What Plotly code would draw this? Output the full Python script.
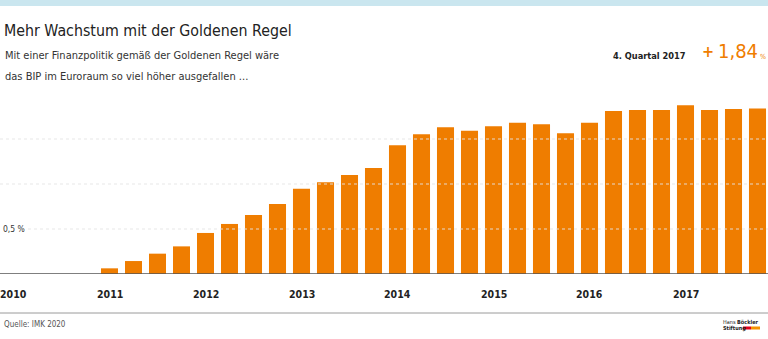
import plotly.graph_objects as go

# ---- data ----
quarters = [f"{y}Q{q}" for y in range(2010, 2018) for q in range(1, 5)]
values = [
    0, 0, 0, 0,                      # 2010
    0.063, 0.144, 0.226, 0.307,      # 2011
    0.456, 0.556, 0.656, 0.778,      # 2012
    0.948, 1.019, 1.100, 1.178,      # 2013
    1.430, 1.552, 1.630, 1.593,      # 2014
    1.641, 1.681, 1.663, 1.563,      # 2015
    1.681, 1.811, 1.822, 1.822,      # 2016
    1.874, 1.822, 1.833, 1.840,      # 2017
]
year_labels = ["2010", "2011", "2012", "2013", "2014", "2015", "2016", "2017"]
grid_values = [0.5, 1.0, 1.5]

W, H = 768, 339
T, B = 94, 65
PH = H - T - B  # plot height in px
FONT = "DejaVu Sans Condensed, Liberation Sans Narrow, sans-serif"
ORANGE = "#ef7d00"


def py(p):  # pixel y -> paper y
    return (H - B - p) / PH


def px(p):  # pixel x -> paper x
    return p / W


xs = list(range(len(quarters)))

fig = go.Figure()
fig.add_trace(go.Bar(x=xs, y=values, marker=dict(color=ORANGE, line=dict(width=0)),
                     hoverinfo="skip", text=quarters, textposition="none"))

shapes = []
# top band
shapes.append(dict(type="rect", xref="paper", yref="paper", x0=0, x1=1, y0=py(6), y1=py(0),
                   fillcolor="#cae6ef", line=dict(width=0), layer="above"))
# grid lines (drawn above bars, light)
for g in grid_values:
    x0 = px(28) if g == 0.5 else 0
    shapes.append(dict(type="line", xref="paper", yref="y", x0=x0, x1=1, y0=g, y1=g,
                       line=dict(color="rgba(228,228,228,0.9)", width=1, dash="dot"), layer="above"))
# baseline
shapes.append(dict(type="line", xref="paper", yref="y", x0=0, x1=1, y0=0, y1=0,
                   line=dict(color="#555555", width=1.5), layer="above"))
# footer rule
shapes.append(dict(type="line", xref="paper", yref="paper", x0=0, x1=1, y0=py(313), y1=py(313),
                   line=dict(color="#9a9a9a", width=1)))
# logo bars
shapes.append(dict(type="rect", xref="paper", yref="paper", x0=px(743), x1=px(751), y0=py(329.5), y1=py(326.5),
                   fillcolor="#e2001a", line=dict(width=0)))
shapes.append(dict(type="rect", xref="paper", yref="paper", x0=px(751), x1=px(760), y0=py(329.5), y1=py(326.5),
                   fillcolor="#f39200", line=dict(width=0)))

ann = []
ann.append(dict(text="Mehr Wachstum mit der Goldenen Regel", x=px(2), y=py(30.5), xanchor="left", yanchor="middle",
                font=dict(family=FONT, size=15.8, color="#222222")))
ann.append(dict(text="Mit einer Finanzpolitik gemäß der Goldenen Regel wäre", x=px(3), y=py(55.5),
                xanchor="left", yanchor="middle", font=dict(family=FONT, size=11, color="#333333")))
ann.append(dict(text="das BIP im Euroraum so viel höher ausgefallen ...", x=px(3), y=py(76.5),
                xanchor="left", yanchor="middle", font=dict(family=FONT, size=11, color="#333333")))
ann.append(dict(text="<b>4. Quartal 2017</b>", x=px(688), y=py(55.5), xanchor="right", yanchor="middle",
                font=dict(family=FONT, size=9.2, color="#222222")))
ann.append(dict(text="<b>+</b>", x=px(700), y=py(51.5), xanchor="left", yanchor="middle",
                font=dict(family=FONT, size=16, color=ORANGE)))
ann.append(dict(text="1,84", x=px(716), y=py(51.5), xanchor="left", yanchor="middle",
                font=dict(family=FONT, size=20, color=ORANGE)))
ann.append(dict(text="%", x=px(758), y=py(56.5), xanchor="left", yanchor="middle",
                font=dict(family=FONT, size=7, color=ORANGE)))
ann.append(dict(text="0,5 %", x=px(1), y=0.5, xref="paper", yref="y", xanchor="left", yanchor="middle",
                font=dict(family=FONT, size=8.5, color="#333333")))
for k, lab in enumerate(year_labels):
    ann.append(dict(text=f"<b>{lab}</b>", x=4 * k, xref="x", y=0, yref="paper", yshift=-20,
                    xanchor="center", yanchor="middle", font=dict(family=FONT, size=10.5, color="#222222")))
ann.append(dict(text="Quelle: IMK 2020", x=px(2), y=py(324), xanchor="left", yanchor="middle",
                font=dict(family=FONT, size=8, color="#555555")))
ann.append(dict(text="Hans <b>Böckler</b>", x=px(721), y=py(322), xanchor="left", yanchor="middle",
                font=dict(family=FONT, size=5.5, color="#222222")))
ann.append(dict(text="<b>Stiftung</b>", x=px(721), y=py(328), xanchor="left", yanchor="middle",
                font=dict(family=FONT, size=5.5, color="#222222")))
for a in ann:
    a.setdefault("xref", "paper")
    a.setdefault("yref", "paper")
    a["showarrow"] = False

fig.update_layout(
    width=W, height=H,
    margin=dict(l=0, r=0, t=T, b=B),
    paper_bgcolor="white", plot_bgcolor="white",
    showlegend=False, bargap=0.29,
    xaxis=dict(range=[-0.5625, 31.4375], showgrid=False, zeroline=False, showticklabels=False,
               showline=False, fixedrange=True),
    yaxis=dict(range=[0, 2.0], showgrid=False, zeroline=False, showticklabels=False,
               showline=False, fixedrange=True),
    shapes=shapes, annotations=ann,
)

fig.write_html("out.html", config={"displayModeBar": False})
